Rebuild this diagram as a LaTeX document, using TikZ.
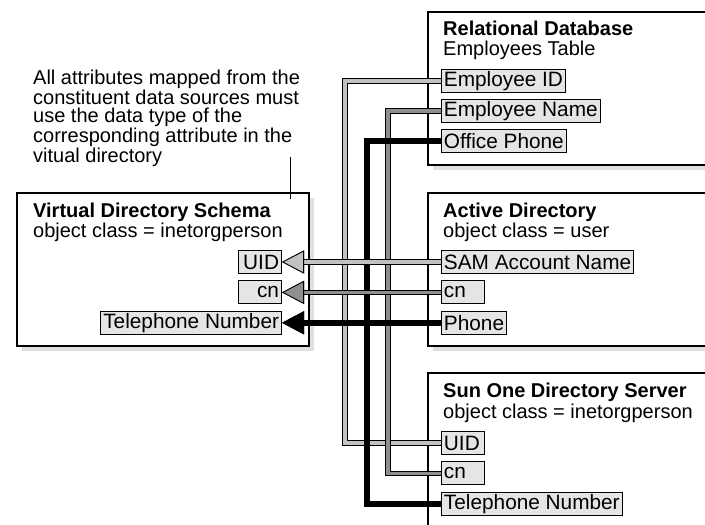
\documentclass[tikz,border=0pt]{standalone}
\usepackage{fontspec}
\setmainfont{Liberation Sans}
\usetikzlibrary{positioning, arrows.meta, shadows}
\definecolor{idgray}{gray}{0.76}
\definecolor{cngray}{gray}{0.56}
\definecolor{attrgray}{gray}{0.9}
\definecolor{shadegray}{gray}{0.88}
\tikzset{x=1pt, y=-1pt,
panel/.style={draw, line width=2pt, fill=white, anchor=north west, minimum width=310,
  drop shadow={shadow xshift=5pt, shadow yshift=-5pt, fill=shadegray, opacity=1}},
heading/.style={anchor=base west, inner sep=0pt, font=\fontsize{20}{20}\selectfont},
attr/.style={draw, line width=0.9pt, fill=attrgray, minimum height=23, inner xsep=2.5pt,
  inner ysep=0pt, font=\fontsize{20.8}{20.8}\selectfont},
narrow/.style={text width=38, align=#1},
wire/.style={line width=3.6pt, draw=#1, line join=miter, preaction={draw=black, line width=5.6pt}},
headed/.style={-{Triangle[length=22pt, width=23pt, line width=0.8pt, color=black, fill=#1]}},
}

\begin{document}
\begin{tikzpicture}
\clip (0,0) rectangle (705,525);
% note and virtual schema
\node[heading, align=left, font=\fontsize{20}{18.5}\selectfont] (note) at (33,162)
  {All attributes mapped from the\\constituent data sources must\\use the data type of the\\corresponding attribute in the\\vitual directory};
\node[panel, minimum width=292, minimum height=153] (vds) at (16,192) {};
\node[heading] (vdsHead) at (33,217) {\bfseries Virtual Directory Schema};
\node[heading] (vdsSub) at ([yshift=-20pt]vdsHead.base west) {object class = inetorgperson};
\node[attr, narrow=right, anchor=east] (uidL) at (282,262) {UID};
\node[attr, narrow=right, below=6.5pt of uidL.south east, anchor=north east] (cnL) {cn};
\node[attr, below=6.5pt of cnL.south east, anchor=north east] (telL) {Telephone Number};
\coordinate (tickTop) at (290,157);
\coordinate (tickEnd) at (290,199);
\draw[line width=0.9pt] (tickTop) -- (tickEnd);

% data sources
\node[panel, minimum height=153] (rdb) at (427,11) {};
\node[heading] (rdbHead) at (443,35) {\bfseries Relational Database};
\node[heading] (rdbSub) at ([yshift=-20pt]rdbHead.base west) {Employees Table};
\node[attr, anchor=west] (empId) at (441,81) {Employee ID};
\node[attr, below=6pt of empId.south west, anchor=north west] (empName) {Employee Name};
\node[attr, below=6pt of empName.south west, anchor=north west] (office) {Office Phone};

\node[panel, minimum height=153] (ad) at (427,192) {};
\node[heading] (adHead) at (443,217) {\bfseries Active Directory};
\node[heading] (adSub) at ([yshift=-20pt]adHead.base west) {object class = user};
\node[attr, anchor=west] (sam) at (441,262) {SAM Account Name};
\node[attr, narrow=left, below=6.5pt of sam.south west, anchor=north west] (cnR) {cn};
\node[attr, below=6.5pt of cnR.south west, anchor=north west] (phone) {Phone};

\node[panel, minimum height=200] (sun) at (427,372) {};
\node[heading] (sunHead) at (443,397) {\bfseries Sun One Directory Server};
\node[heading] (sunSub) at ([yshift=-21pt]sunHead.base west) {object class = inetorgperson};
\node[attr, narrow=left, anchor=west] (sunUid) at (441,443) {UID};
\node[attr, narrow=left, below=6.5pt of sunUid.south west, anchor=north west] (sunCn) {cn};
\node[attr, below=6.5pt of sunCn.south west, anchor=north west] (sunTel) {Telephone Number};

% mappings
\coordinate (idBus) at (345,0);
\coordinate (telBus) at (367,0);
\coordinate (cnBus) at (388,0);
\draw[wire=idgray] (sunUid.west) -- (sunUid.west -| idBus) |- (empId.west);
\draw[wire=cngray] (sunCn.west) -- (sunCn.west -| cnBus) |- (empName.west);
\draw[wire=black] (sunTel.west) -- (sunTel.west -| telBus) |- (office.west);
\draw[wire=idgray, headed=idgray] (sam.west) -- (uidL.east);
\draw[wire=cngray, headed=cngray] (cnR.west) -- (cnL.east);
\draw[wire=black, headed=black] (phone.west) -- (telL.east);
\end{tikzpicture}
\end{document}
